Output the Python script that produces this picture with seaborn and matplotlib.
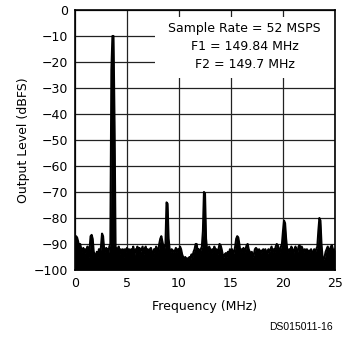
import numpy as np
import matplotlib
matplotlib.use("Agg")
import matplotlib.pyplot as plt
from matplotlib.patches import Rectangle
import seaborn as sns

# Frequency grid (MHz), 0.1 MHz spacing
freq_mhz = np.round(np.linspace(0, 25, 251), 1)

# Output level (dBFS)
level_dbfs = [
    -88, -87, -87.5, -89, -91, -90, -92, -93, -91.5, -94,
    -92, -93, -91, -95, -92, -87, -86.5, -88, -93, -94,
    -96, -93, -95, -92, -94, -91, -86, -87, -92, -93,
    -91.5, -92, -94, -91, -90, -23, -10, -10, -43, -91,
    -92, -93, -91, -94, -92, -93, -92, -95, -92, -93,
    -91.5, -93, -92, -94, -92, -93, -91, -95, -92, -93,
    -91, -94, -91.5, -93, -92, -91, -94, -92, -91, -93,
    -92, -94, -92, -91.5, -93, -95, -92, -93, -91, -92,
    -93, -90, -88, -87, -89, -91, -92, -90, -74, -74.5,
    -88, -92, -93, -92, -93, -92.5, -93, -91.5, -93, -92,
    -93, -91, -92, -94, -95, -96, -95, -96, -95.5, -96,
    -95, -96, -94, -95, -93, -92, -90, -90, -93, -92,
    -94, -92, -91, -85, -70, -70.5, -88, -92, -93, -91,
    -92, -94, -92, -93, -91, -93, -92, -94, -92, -90,
    -90.5, -92, -94, -95, -94, -93.5, -95, -93, -94, -92,
    -93, -92, -94, -93, -91, -88, -87, -87.5, -90, -93,
    -92, -93, -91.5, -93, -92, -90.5, -90, -92, -93, -94,
    -93, -95, -94, -92, -91.5, -92, -93, -92, -94, -92.5,
    -93, -92, -93.5, -92, -93, -94, -92, -93, -92, -91,
    -93, -92, -93, -91, -90, -90.5, -92, -93, -91, -90,
    -85, -81, -82, -88, -92, -93, -92, -93, -91, -92,
    -94, -92, -91, -92.5, -93, -91, -90.5, -92, -91, -92,
    -93, -92, -93, -92, -94, -92.5, -93, -92, -93, -94,
    -92, -93, -92, -91, -85, -80, -81, -90, -95, -96,
    -95, -93, -92, -91, -92, -94, -91, -90.5, -92, -93,
    -92,
]

x_ticks = [0, 5, 10, 15, 20, 25]
y_ticks = [0, -10, -20, -30, -40, -50, -60, -70, -80, -90, -100]
annotation_lines = ["Sample Rate = 52 MSPS", "F1 = 149.84 MHz", "F2 = 149.7 MHz"]

sns.set_theme(style="white")
plt.rcParams["font.family"] = ["DejaVu Sans"]

fig = plt.figure(figsize=(3.42, 3.47), dpi=100)
ax = fig.add_axes([75 / 342, 1 - 270 / 347, 260 / 342, 260 / 347])

ax.set_axisbelow(True)
ax.grid(True, color="#222222", linewidth=0.9)

# white box behind the annotation text (interrupts grid)
ax.add_patch(Rectangle((7.7, -26), 17.3, 23.2, facecolor="white",
                       edgecolor="none", zorder=1))

ax.fill_between(freq_mhz, level_dbfs, -100, color="black", linewidth=0, zorder=2)
sns.lineplot(x=freq_mhz, y=level_dbfs, color="black", linewidth=1.5, ax=ax,
             zorder=3, estimator=None, sort=False)

ax.set_xlim(0, 25)
ax.set_ylim(-100, 0)
ax.set_xticks(x_ticks)
ax.set_yticks(y_ticks)
ax.set_yticklabels([f"\u2212{abs(v)}" if v < 0 else str(v) for v in y_ticks])
ax.tick_params(axis="both", length=0, pad=5, labelsize=9, colors="black")

for s in ax.spines.values():
    s.set_color("black")
    s.set_linewidth(1.2)
    s.set_zorder(4)

ax.set_xlabel("Frequency (MHz)", fontsize=9, color="black", labelpad=7)
ax.set_ylabel("Output Level (dBFS)", fontsize=9, color="black", labelpad=3)

for i, line in enumerate(annotation_lines):
    ax.text(16.3, -7.3 - 6.8 * i, line, ha="center", va="center",
            fontsize=9, color="black", zorder=5)

fig.text(333 / 342, 1 - 327 / 347, "DS015011-16", ha="right", va="center",
         fontsize=7.5, family="Liberation Sans", color="black")

fig.savefig("out.png", dpi=100)
